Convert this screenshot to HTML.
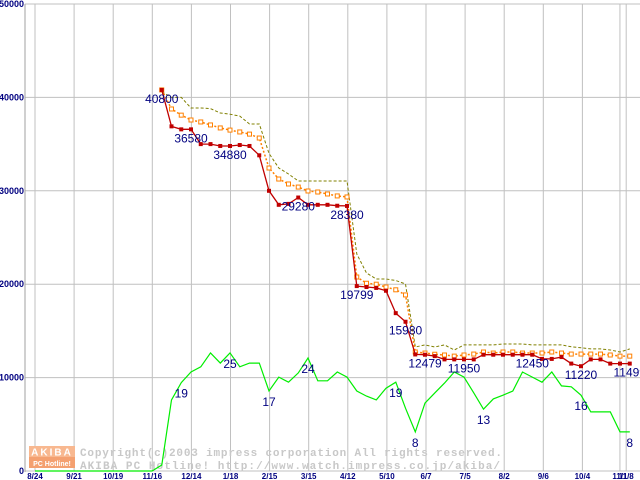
<!DOCTYPE html>
<html><head><meta charset="utf-8"><style>
body{margin:0;background:#fff}
svg{display:block}
text{font-family:"Liberation Sans",sans-serif}
</style></head><body>
<svg id="chart" width="640" height="480" viewBox="0 0 640 480" xmlns="http://www.w3.org/2000/svg">
<g id="grid"></g>
<g id="wm">
 <rect x="29" y="446" width="46" height="11" fill="#f8b890"/>
 <rect x="29" y="457" width="46" height="11" fill="#f4a070"/>
 <text x="52" y="455.5" font-size="10" font-weight="bold" fill="#fff" text-anchor="middle" letter-spacing="2">AKIBA</text>
 <text x="52" y="466" font-size="7" font-weight="bold" fill="#fff" text-anchor="middle">PC Hotline!</text>
 <text x="80" y="456" font-size="11" fill="#c8c8c8" style="font-family:'Liberation Mono',monospace" font-weight="bold" textLength="422">Copyright(c)2003 impress corporation All rights reserved.</text>
 <text x="80" y="469" font-size="11" fill="#c8c8c8" style="font-family:'Liberation Mono',monospace" font-weight="bold" textLength="420">AKIBA PC Hotline!  http://www.watch.impress.co.jp/akiba/</text>
</g>
<g id="series"></g>
<g id="labels"></g>
</svg>
<script>
const xTickLabels=["8/24","9/21","10/19","11/16","12/14","1/18","2/15","3/15","4/12","5/10","6/7","7/5","8/2","9/6","10/4","11/1","11/8"];
const xTickPos=[0,1,2,3,4,5,6,7,8,9,10,11,12,13,14,14.96,15.12];
const yTicks=[0,10000,20000,30000,40000,50000];
const startWeek=13;
const minPrice=[40800,36900,36580,36580,35000,35000,34800,34800,34900,34800,33800,30000,28500,28600,29280,28500,28500,28500,28400,28380,19799,19700,19600,19300,16900,15980,12479,12450,12300,11950,11950,11950,11950,12450,12450,12450,12450,12450,12450,12000,12000,12200,11500,11220,11950,11950,11499,11499,11499];
const avgPrice=[40800,38760,38100,37580,37370,37050,36730,36500,36300,36070,35650,32440,31260,30730,30400,29980,29870,29660,29450,29340,20770,20100,20000,19700,19400,18850,12740,12630,12500,12420,12300,12420,12520,12740,12630,12740,12740,12630,12630,12630,12740,12630,12520,12520,12520,12520,12420,12300,12300];
const maxPrice=[40600,40000,40000,38860,38860,38800,38330,38200,38000,37150,37150,34000,32440,31800,31050,31050,31050,31050,31050,31050,23230,21200,20560,20560,20400,20020,13280,13500,13280,13500,12960,13500,13500,13500,13500,13600,13600,13600,13500,13500,13500,13500,13300,13200,13070,13070,12960,12740,13070];
const shopCount=[0,0,0,0,0,0,0,0,0,0,0,0,0,1.3,15.3,19,21.3,22.4,25.4,23.2,25.4,22.4,23.2,23.2,17.2,20.2,19.1,21.1,24.3,19.4,19.4,21.3,20.2,17.2,16.1,15.3,17.8,19.1,13.5,8.4,14.6,16.8,18.9,21.3,20.2,16.8,13.3,15.5,16.3,17.2,21.3,20.2,19.1,21.3,18.3,18.1,16.3,12.7,12.7,12.7,8.4,8.4];
const priceLabelWeeks=[13,16,20,27,32,33,38,40,44,51,56,61];
const priceLabelText=["40800","36580","34880","29280","28380","19799","15980","12479","11950","12450","11220","11499"];
const countLabelWeeks=[15,20,24,28,37,39,46,56,61];
const countLabelText=["19","25","17","24","19","8","13","16","8"];

const NS="http://www.w3.org/2000/svg";
function gx(g){return 35+39.1*g;}
function wx(w){return 35+9.75*w;}
function py(v){return 471-v*0.00934;}
function cy(c){return 471-c*4.65;}
function mk(tag,attrs,parent){const e=document.createElementNS(NS,tag);for(const k in attrs)e.setAttribute(k,attrs[k]);parent.appendChild(e);return e;}
const grid=document.getElementById('grid'),ser=document.getElementById('series'),lab=document.getElementById('labels');
yTicks.forEach(v=>{
 const l=mk('line',{x1:25,x2:640,y1:py(v),y2:py(v),stroke:'#c0c0c0','stroke-width':1},grid);
 
 
 const t=mk('text',{x:24,y:py(v)+3,'font-size':9,'font-weight':'bold',fill:'#000080','text-anchor':'end'},grid);
 t.textContent=String(v);
 
 
});
xTickPos.forEach((g,i)=>{
 const l=mk('line',{x1:gx(g),x2:gx(g),y1:4,y2:471,stroke:'#c0c0c0','stroke-width':1},grid);
 
 
 const t=mk('text',{x:gx(g),y:479,'font-size':8,'font-weight':'bold',fill:'#000080','text-anchor':'middle'},grid);
 t.textContent=xTickLabels[i];
 
 
});
const ax=mk('line',{x1:25,x2:25,y1:4,y2:472,stroke:'#a0a0a0'},grid);



function ptsOf(arr,start,fy){return arr.map((v,i)=>wx(start+i).toFixed(1)+','+fy(v).toFixed(1)).join(' ');}
const gl=mk('polyline',{points:ptsOf(shopCount,0,cy),fill:'none',stroke:'#00ee00','stroke-width':1.2},ser);


const ml=mk('polyline',{points:ptsOf(maxPrice,startWeek,py),fill:'none',stroke:'#808000','stroke-width':1,'stroke-dasharray':'3,2'},ser);


const al=mk('polyline',{points:ptsOf(avgPrice,startWeek,py),fill:'none',stroke:'#ff8000','stroke-width':1.5,'stroke-dasharray':'2,2'},ser);


avgPrice.forEach((v,i)=>{
 const r=mk('rect',{x:wx(startWeek+i)-2,y:py(v)-2,width:4,height:4,fill:'#fff',stroke:'#ff8000','stroke-width':1},ser);
 
 
});
const rl=mk('polyline',{points:ptsOf(minPrice,startWeek,py),fill:'none',stroke:'#c00000','stroke-width':1.3},ser);


minPrice.forEach((v,i)=>{
 const r=mk('rect',{x:wx(startWeek+i)-2,y:py(v)-2,width:4,height:4,fill:'#c00000'},ser);
 
 
});
priceLabelWeeks.forEach((w,i)=>{
 const v=minPrice[w-startWeek];
 const t=mk('text',{x:wx(w),y:py(v)+13,'font-size':12,fill:'#000080','text-anchor':'middle'},lab);
 t.textContent=priceLabelText[i];
 
 
});
countLabelWeeks.forEach((w,i)=>{
 const t=mk('text',{x:wx(w),y:cy(shopCount[w])+15,'font-size':12,fill:'#000080','text-anchor':'middle'},lab);
 t.textContent=countLabelText[i];
 
 
});
</script>
</body></html>
